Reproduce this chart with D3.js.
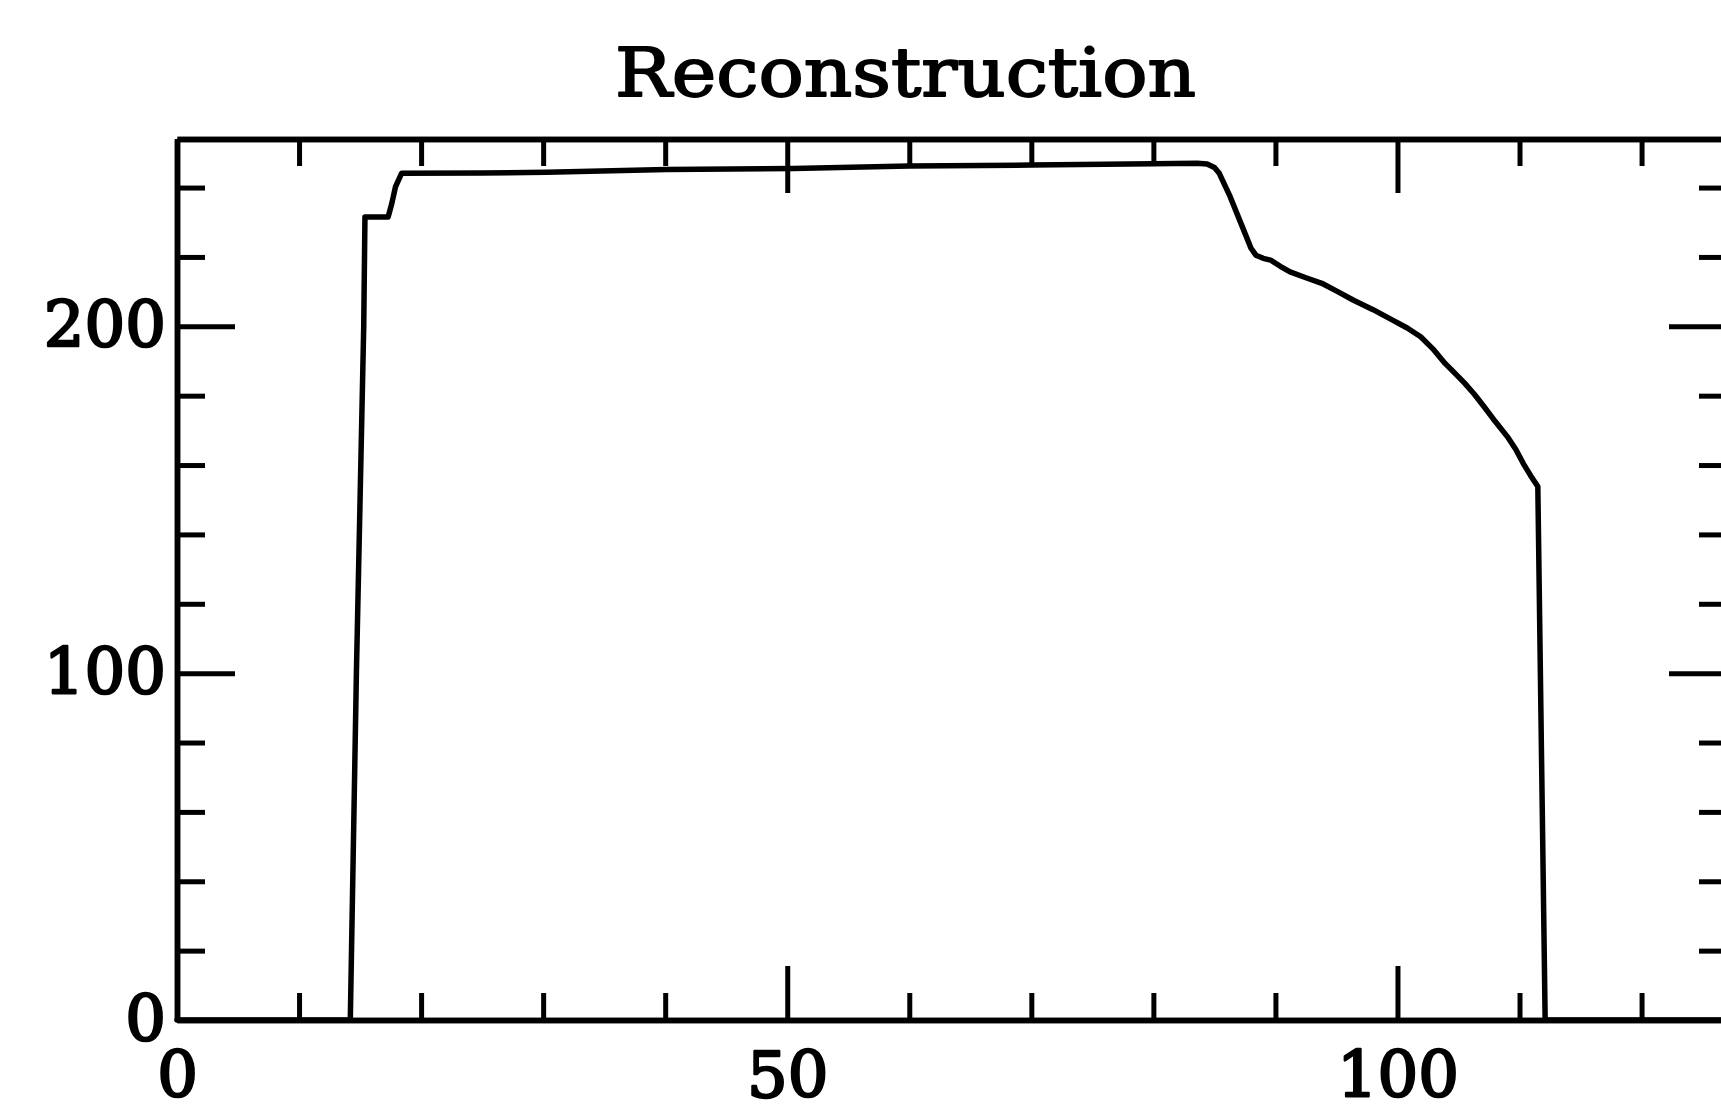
<!DOCTYPE html>
<html>
<head>
<meta charset="utf-8">
<script src="https://cdn.jsdelivr.net/npm/d3@7"></script>
<style>
  html, body { margin: 0; padding: 0; background: #fff; }
  svg { display: block; }
</style>
</head>
<body>
<script>
// Reconstructed profile: sample positions and values
const profileX = [0, 14.2, 14.7, 15.3, 15.4, 17.3, 17.6, 17.9, 18.4, 25, 30.3, 40.1, 50.5, 60, 70, 80,
                  83.6, 84.4, 85.0, 85.4, 86.3, 87.3, 88.0, 88.4, 89.0, 89.6, 90.4, 91.2, 92.5, 93.8,
                  95.1, 96.4, 98.0, 99.6, 100.8, 101.9, 102.9, 103.9, 104.7, 105.5, 106.3, 107.1,
                  108.0, 109.0, 109.7, 110.3, 110.9, 111.5, 112.1, 127];
const profileY = [0, 0, 100, 200, 231.5, 231.5, 235.4, 240.2, 244.1, 244.2, 244.4, 245.2, 245.5, 246.2, 246.5, 246.9,
                  247.0, 246.8, 245.8, 244.1, 237.3, 228.6, 222.5, 220.5, 219.6, 219.1, 217.3, 215.7, 214.0, 212.4,
                  210.0, 207.5, 204.8, 201.8, 199.5, 197.0, 193.5, 189.3, 186.5, 183.6, 180.4, 176.8,
                  172.6, 168.2, 164.5, 160.5, 157.0, 153.8, 0, 0];

// Axis ticks
const xMajorTicks = [0, 50, 100];
const xMinorTicks = [10, 20, 30, 40, 60, 70, 80, 90, 110, 120];
const yMajorTicks = [0, 100, 200];
const yMinorTicks = [20, 40, 60, 80, 120, 140, 160, 180, 220, 240];
const xDomain = [0, 127];
const yDomain = [0, 254];
const chartTitle = "Reconstruction";

(function () {
  const W = 1721, H = 1112;
  const plotL = 177, plotR = 1727, plotT = 139, plotB = 1020;

  const svg = d3.select("body").append("svg")
    .attr("width", W).attr("height", H)
    .attr("viewBox", `0 0 ${W} ${H}`);

  svg.append("rect").attr("width", W).attr("height", H).attr("fill", "#fff");

  const x = d3.scaleLinear().domain(xDomain).range([plotL, plotR]);
  const y = d3.scaleLinear().domain(yDomain).range([plotB, plotT]);

  const AXIS_W = 5.5, TICK_W = 5;
  const MAJOR = 54, MINOR = 27;
  const labelFont = "'DejaVu Serif', serif";

  function styleAxis(g, showLabels) {
    g.attr("font-family", null).attr("font-size", null);
    g.select(".domain").attr("stroke", "#000").attr("stroke-width", AXIS_W);
    g.selectAll(".tick line").attr("stroke", "#000").attr("stroke-width", TICK_W);
    g.selectAll(".tick text")
      .attr("fill", "#000")
      .attr("stroke", "#000")
      .attr("stroke-width", 2.4)
      .attr("stroke-linejoin", "round")
      .attr("font-family", labelFont)
      .attr("font-size", 64)
      .style("display", showLabels ? null : "none");
  }

  // Bottom axis: major ticks with labels, then minor ticks
  svg.append("g").attr("transform", `translate(0,${plotB})`)
    .call(d3.axisBottom(x).tickValues(xMajorTicks).tickSize(-MAJOR).tickSizeOuter(0)
          .tickPadding(32).tickFormat(d3.format("d")))
    .call(g => styleAxis(g, true));
  svg.append("g").attr("transform", `translate(0,${plotB})`)
    .call(d3.axisBottom(x).tickValues(xMinorTicks).tickSize(-MINOR).tickSizeOuter(0).tickFormat(""))
    .call(g => styleAxis(g, false));

  // Top axis
  svg.append("g").attr("transform", `translate(0,${plotT})`)
    .call(d3.axisTop(x).tickValues(xMajorTicks).tickSize(-MAJOR).tickSizeOuter(0).tickFormat(""))
    .call(g => styleAxis(g, false));
  svg.append("g").attr("transform", `translate(0,${plotT})`)
    .call(d3.axisTop(x).tickValues(xMinorTicks).tickSize(-MINOR).tickSizeOuter(0).tickFormat(""))
    .call(g => styleAxis(g, false));

  // Left axis
  svg.append("g").attr("transform", `translate(${plotL},0)`)
    .call(d3.axisLeft(y).tickValues(yMajorTicks).tickSize(-(MAJOR + 4)).tickSizeOuter(0)
          .tickPadding(11).tickFormat(d3.format("d")))
    .call(g => styleAxis(g, true));
  svg.append("g").attr("transform", `translate(${plotL},0)`)
    .call(d3.axisLeft(y).tickValues(yMinorTicks).tickSize(-(MINOR + 1)).tickSizeOuter(0).tickFormat(""))
    .call(g => styleAxis(g, false));

  // Right axis
  svg.append("g").attr("transform", `translate(${plotR},0)`)
    .call(d3.axisRight(y).tickValues(yMajorTicks).tickSize(-(MAJOR + 4)).tickSizeOuter(0).tickFormat(""))
    .call(g => styleAxis(g, false));
  svg.append("g").attr("transform", `translate(${plotR},0)`)
    .call(d3.axisRight(y).tickValues(yMinorTicks).tickSize(-(MINOR + 1)).tickSizeOuter(0).tickFormat(""))
    .call(g => styleAxis(g, false));

  // Profile curve
  const pts = profileX.map((v, i) => [v, profileY[i]]);
  svg.append("path")
    .datum(pts)
    .attr("fill", "none")
    .attr("stroke", "#000")
    .attr("stroke-width", 5.5)
    .attr("stroke-linejoin", "round")
    .attr("stroke-linecap", "round")
    .attr("d", d3.line().x(d => x(d[0])).y(d => y(d[1])));

  // Title
  svg.append("text")
    .attr("x", 615)
    .attr("y", 96)
    .attr("font-family", "'DejaVu Serif', serif")
    .attr("font-size", 68)
    .attr("textLength", 581)
    .attr("lengthAdjust", "spacingAndGlyphs")
    .attr("fill", "#000")
    .attr("stroke", "#000")
    .attr("stroke-width", 1.8)
    .attr("stroke-linejoin", "round")
    .text(chartTitle);
})();
</script>
</body>
</html>
